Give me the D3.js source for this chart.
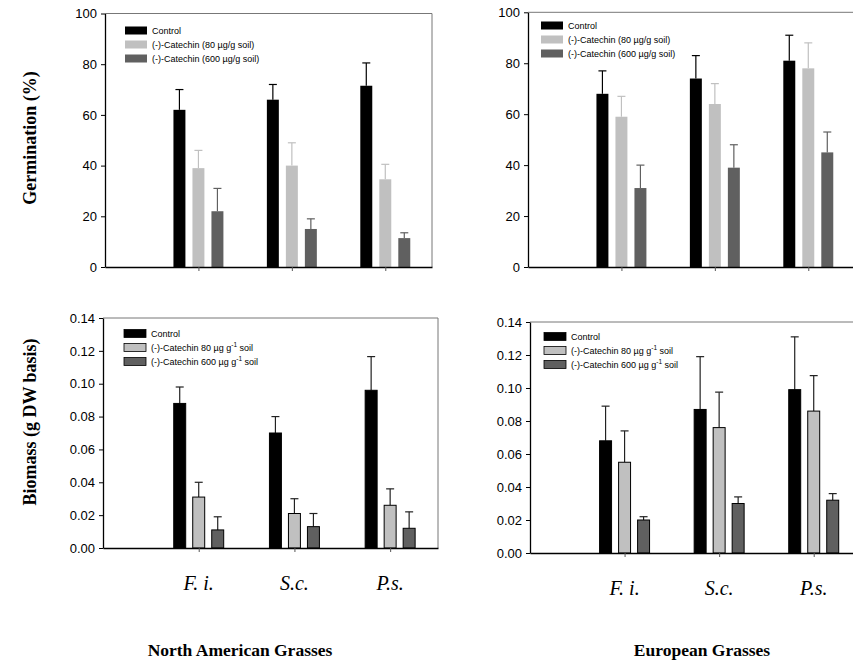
<!DOCTYPE html>
<html><head><meta charset="utf-8">
<script src="https://cdn.jsdelivr.net/npm/d3@7"></script>
<style>body{margin:0;background:#fff}svg{display:block}</style>
</head><body><svg id="c" width="853" height="664"></svg>
<script>
// ---- data ----
const categories = ["F. i.", "S.c.", "P.s."];
const seriesKeys = ["control", "c80", "c600"];
const germLegend = ["Control", "(-)-Catechin (80 µg/g soil)", "(-)-Catechin (600 µg/g soil)"];
const bioLegendPre = ["Control", "(-)-Catechin 80 µg g", "(-)-Catechin 600 µg g"];
const germTicks = [0, 20, 40, 60, 80, 100];
const bioTicks = [0, 0.02, 0.04, 0.06, 0.08, 0.10, 0.12, 0.14];
// series x category; mean and upper error-bar end
const naGermMean = [[62, 66, 71.5], [39, 40, 34.6], [22, 15, 11.4]];
const naGermUpper = [[70, 72, 80.5], [46, 49, 40.5], [31, 19, 13.5]];
const euGermMean = [[68, 74, 81], [59, 64, 78], [31, 39, 45]];
const euGermUpper = [[77, 83, 91], [67, 72, 88], [40, 48, 53]];
const naBioMean = [[0.088, 0.070, 0.096], [0.031, 0.021, 0.026], [0.011, 0.013, 0.012]];
const naBioUpper = [[0.098, 0.080, 0.1165], [0.040, 0.030, 0.036], [0.019, 0.021, 0.022]];
const euBioMean = [[0.068, 0.087, 0.099], [0.055, 0.076, 0.086], [0.020, 0.030, 0.032]];
const euBioUpper = [[0.089, 0.119, 0.131], [0.074, 0.0975, 0.1075], [0.022, 0.034, 0.036]];
const colors = ["#000000", "#c0c0c0", "#606060"];

const svg = d3.select("#c");
const SANS = "'Liberation Sans', Arial, sans-serif";
const SERIF = "'Liberation Serif', 'Times New Roman', serif";

const panels = [
  {mean: naGermMean, upper: naGermUpper, ticks: germTicks, max: 100, fmt: d3.format("d"),
   x0: 105, x1: 432, y0: 267, y1: 13.5, outline: false, legend: "germ", lx: 125, ly: 30, labels: false},
  {mean: euGermMean, upper: euGermUpper, ticks: germTicks, max: 100, fmt: d3.format("d"),
   x0: 528, x1: 855, y0: 267, y1: 12.3, outline: false, legend: "germ", lx: 541, ly: 25, labels: false},
  {mean: naBioMean, upper: naBioUpper, ticks: bioTicks, max: 0.14, fmt: d3.format(".2f"),
   x0: 103, x1: 438, y0: 548, y1: 318, outline: true, legend: "bio", lx: 124, ly: 333, labels: true},
  {mean: euBioMean, upper: euBioUpper, ticks: bioTicks, max: 0.14, fmt: d3.format(".2f"),
   x0: 530, x1: 861, y0: 553, y1: 322, outline: true, legend: "bio", lx: 544, ly: 336, labels: true}
];

panels.forEach(p => {
  const g = svg.append("g");
  const x = d3.scaleLinear().domain([0, 3.5]).range([p.x0, p.x1]);
  const y = d3.scaleLinear().domain([0, p.max]).range([p.y0, p.y1]);
  const off = d3.scaleBand().domain(seriesKeys).range([-28.5, 28.5]).paddingInner(0.37).paddingOuter(0.185);

  g.append("path").attr("d", `M${p.x0},${p.y1}H${p.x1}V${p.y0}`)
    .attr("fill", "none").attr("stroke", "#777").attr("stroke-width", 1);

  seriesKeys.forEach((k, si) => {
    categories.forEach((c, ci) => {
      const cx = x(ci + 1) + off(k);
      const m = p.mean[si][ci], u = p.upper[si][ci];
      const ec = p.outline ? "#222" : colors[si];
      const mid = cx + off.bandwidth() / 2;
      g.append("line").attr("x1", mid).attr("x2", mid).attr("y1", y(m)).attr("y2", y(u))
        .attr("stroke", ec).attr("stroke-width", 1.2);
      g.append("line").attr("x1", mid - 4).attr("x2", mid + 4).attr("y1", y(u)).attr("y2", y(u))
        .attr("stroke", ec).attr("stroke-width", 1.2);
      g.append("rect").attr("x", cx).attr("width", off.bandwidth())
        .attr("y", y(m)).attr("height", y(0) - y(m))
        .attr("fill", colors[si])
        .attr("stroke", p.outline ? "#000" : "none").attr("stroke-width", 1);
    });
  });

  const ya = d3.axisLeft(y).tickValues(p.ticks).tickFormat(p.fmt).tickSize(4).tickSizeOuter(0).tickPadding(4);
  const yg = g.append("g").attr("transform", `translate(${p.x0},0)`).call(ya);
  yg.select(".domain").attr("stroke", "#000").attr("stroke-width", 1.3);
  yg.selectAll("text").attr("font-family", SANS).attr("font-size", 13).attr("fill", "#000");

  const xa = d3.axisBottom(x).tickValues([1, 2, 3]).tickFormat("").tickSize(4).tickSizeOuter(0);
  const xg = g.append("g").attr("transform", `translate(0,${p.y0})`).call(xa);
  xg.select(".domain").attr("stroke", "#000").attr("stroke-width", 1.5);
  xg.selectAll(".tick line").attr("stroke", "#555");

  if (p.labels) {
    categories.forEach((c, ci) => {
      g.append("text").attr("x", x(ci + 1)).attr("y", p.y0 + 42)
        .attr("text-anchor", "middle").attr("font-family", SERIF)
        .attr("font-style", "italic").attr("font-size", 20).text(c);
    });
  }

  seriesKeys.forEach((k, si) => {
    const ly = p.ly + si * 14;
    g.append("rect").attr("x", p.lx).attr("y", ly - 3.5).attr("width", 22).attr("height", 8)
      .attr("fill", colors[si]).attr("stroke", p.outline ? "#000" : "none").attr("stroke-width", 0.8);
    const t = g.append("text").attr("x", p.lx + 27).attr("y", ly + 3.5)
      .attr("font-family", SANS).attr("font-size", 9).attr("fill", "#000");
    if (p.legend === "germ") {
      t.text(germLegend[si]);
    } else {
      t.append("tspan").text(bioLegendPre[si]);
      if (si > 0) {
        t.append("tspan").attr("dy", -4).attr("font-size", 6.5).text("-1");
        t.append("tspan").attr("dy", 4).text(" soil");
      }
    }
  });
});

svg.append("text").attr("transform", "translate(36,138) rotate(-90)")
  .attr("text-anchor", "middle").attr("font-family", SERIF).attr("font-weight", "bold")
  .attr("font-size", 18).text("Germination (%)");
svg.append("text").attr("transform", "translate(36,422) rotate(-90)")
  .attr("text-anchor", "middle").attr("font-family", SERIF).attr("font-weight", "bold")
  .attr("font-size", 18).text("Biomass (g DW basis)");
svg.append("text").attr("x", 240).attr("y", 656).attr("text-anchor", "middle")
  .attr("font-family", SERIF).attr("font-weight", "bold").attr("font-size", 17.5).text("North American Grasses");
svg.append("text").attr("x", 702).attr("y", 656).attr("text-anchor", "middle")
  .attr("font-family", SERIF).attr("font-weight", "bold").attr("font-size", 17.5).text("European Grasses");
</script></body></html>
